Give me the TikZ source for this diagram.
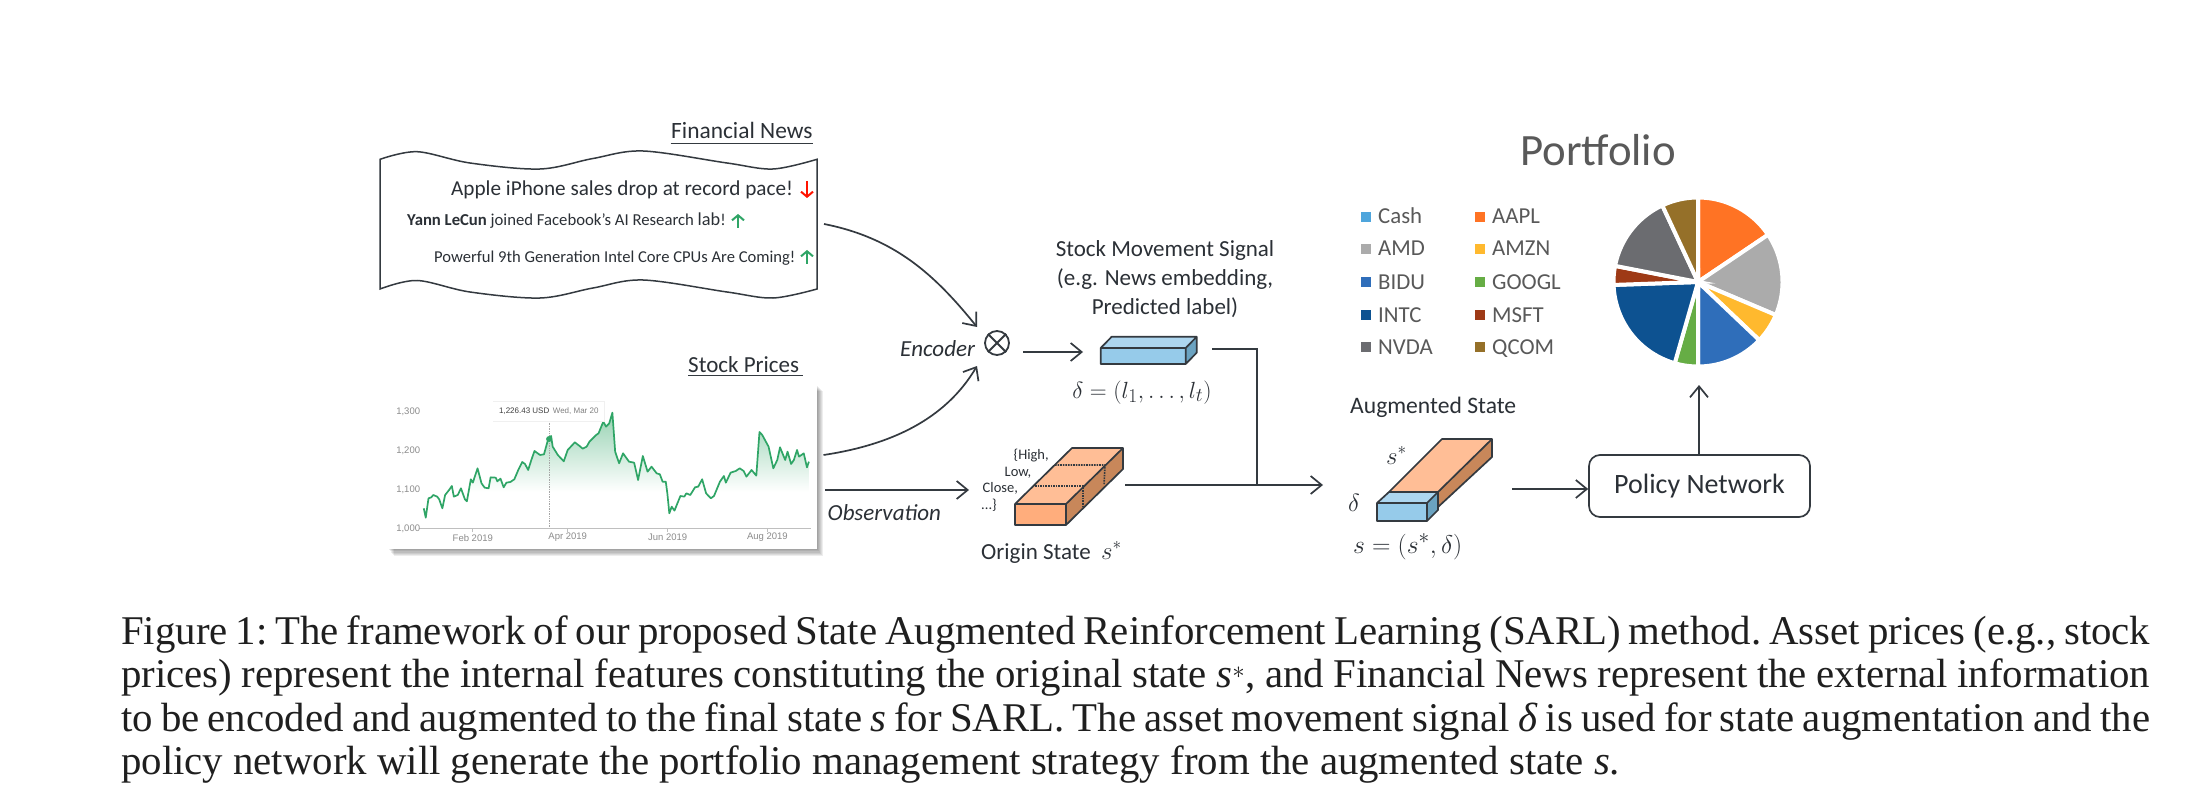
\documentclass[tikz,border=0pt]{standalone}
\usepackage{fontspec}
\setmainfont{Carlito}
\newfontfamily\capfont{Liberation Serif}
\newfontfamily\chartfont{Liberation Sans}
\usetikzlibrary{arrows.meta,calc}
\definecolor{ink}{HTML}{2B3036}
\definecolor{wire}{HTML}{343A40}
\definecolor{legendtxt}{HTML}{595959}
\definecolor{orTop}{HTML}{FFBE96}
\definecolor{orFront}{HTML}{FFAD7C}
\definecolor{orSide}{HTML}{C8875A}
\definecolor{blTop}{HTML}{ADD6EF}
\definecolor{blFront}{HTML}{96CBEA}
\definecolor{blSide}{HTML}{6BA3C1}
\definecolor{chartgreen}{HTML}{2FA566}
\definecolor{cCash}{HTML}{4EA5DC}
\definecolor{cAAPL}{HTML}{FF7324}
\definecolor{cAMD}{HTML}{ABABAB}
\definecolor{cAMZN}{HTML}{FFB92E}
\definecolor{cBIDU}{HTML}{2F6EBA}
\definecolor{cGOOGL}{HTML}{66AD45}
\definecolor{cINTC}{HTML}{0D5291}
\definecolor{cMSFT}{HTML}{9E3A16}
\definecolor{cNVDA}{HTML}{6B6C70}
\definecolor{cQCOM}{HTML}{957029}
\newcommand{\fsz}[1]{\fontsize{#1}{#1}\selectfont}
\tikzset{
  flow/.style={draw=wire,line width=1.7pt,-{Straight Barb[length=11pt,width=18pt,line width=1.7pt]}},
  plain/.style={draw=wire,line width=1.7pt},
  txt/.style={inner sep=0pt,text=ink,anchor=base},
  txtw/.style={inner sep=0pt,text=ink,anchor=base west},
  boxedge/.style={draw=wire,line width=1.7pt,line join=round},
  legendbox/.style={inner sep=0pt,minimum size=10pt},
  legendlabel/.style={inner sep=0pt,text=legendtxt,anchor=base west,font=\fsz{22.8}},
  axislabel/.style={inner sep=0pt,text=black!45,font=\chartfont\fsz{9.5}},
  caption/.style={inner sep=0pt,anchor=base west,text=black!88,font=\capfont\frenchspacing\fsz{40.8}},
  tinyarrow/.style={line width=2pt,-{Straight Barb[length=5pt,width=12pt,line width=2pt]}},
}
\def\chartline{(136,505) -- (141,533) -- (148,475) -- (155,472) -- (160,465) -- (170,470) -- (175,478) -- (183,505) -- (190,465) -- (200,450) -- (207,438) -- (212,470) -- (222,465) -- (230,445) -- (240,478) -- (245,484) -- (255,418) -- (260,428) -- (272,385) -- (282,430) -- (290,443) -- (300,445) -- (305,412) -- (318,413) -- (322,424) -- (330,416) -- (338,442) -- (345,428) -- (355,426) -- (365,418) -- (375,390) -- (385,366) -- (392,372) -- (400,390) -- (408,360) -- (416,333) -- (430,345) -- (440,343) -- (450,300) -- (458,288) -- (462,320) -- (475,345) -- (490,364) -- (500,330) -- (518,307) -- (530,318) -- (538,326) -- (548,320) -- (555,305) -- (572,285) -- (578,280) -- (590,245) -- (597,260) -- (605,250) -- (613,218) -- (620,335) -- (630,370) -- (640,340) -- (655,365) -- (668,368) -- (678,420) -- (690,348) -- (702,395) -- (712,380) -- (725,400) -- (733,403) -- (740,425) -- (748,425) -- (752,460) -- (757,520) -- (763,500) -- (770,512) -- (785,468) -- (795,470) -- (800,460) -- (810,465) -- (822,442) -- (830,440) -- (840,418) -- (850,460) -- (862,475) -- (870,468) -- (885,425) -- (895,408) -- (900,428) -- (912,398) -- (925,393) -- (935,385) -- (945,393) -- (952,410) -- (965,390) -- (977,407) -- (985,276) -- (992,285) -- (1008,320) -- (1020,385) -- (1030,360) -- (1037,322) -- (1050,360) -- (1056,335) -- (1065,372) -- (1072,360) -- (1080,330) -- (1085,350) -- (1097,340) -- (1105,382) -- (1110,365)}
\begin{document}
\begin{tikzpicture}[x=1pt,y=-1pt]
\useasboundingbox (0,0) rectangle (2194,786);
\fill[white] (0,0) rectangle (2194,786);

% ---------- Financial news sheet
\draw[wire,line width=1.5pt,line join=miter]
  plot[smooth,tension=.55] coordinates {(380,159.3) (417,151.7) (470,163) (540,169) (593,158.5) (643,151) (727,163) (773,169) (817,159.3)}
  -- (817,289)
  -- plot[smooth,tension=.55] coordinates {(817,289) (773,298) (727,292) (643,280) (593,288) (540,298) (470,292) (417,280.5) (380,289)}
  -- cycle;
\node[txtw,font=\fsz{23.4}] (newstitle) at (671,139) {Financial News};
\draw[wire,line width=1.4pt] (670.5,143.5) -- (813,143.5);
\node[txtw,font=\fsz{21.2}] (news1) at (451,196) {Apple iPhone sales drop at record pace!};
\node[txtw,font=\fsz{16.7}] (news2) at (407,226) {\textbf{Yann LeCun} joined Facebook’s AI Research {\fsz{18.3}lab}!};
\node[txtw,font=\fsz{16.6}] (news3) at (434,263) {Powerful 9th Generation Intel Core CPUs Are Coming!};
\draw[tinyarrow,red!85!orange] (807,181) -- (807,198);
\draw[tinyarrow,chartgreen] (738,228) -- (738,214);
\draw[tinyarrow,chartgreen] (807,264) -- (807,250);

% ---------- Stock chart card
\foreach \g in {1,...,6}{
  \fill[black,opacity=.07] ({388+\g},{385+\g}) rectangle ({817+\g},{549+1.2*\g});
}
\fill[white] (386,383) rectangle (817,549);
\begin{scope}[shift={(370,340)},x=0.3954pt,y=-0.3333pt]
  \begin{scope}
    \clip (136,565) -- \chartline -- (1110,565) -- cycle;
    \fill[top color=chartgreen!50,bottom color=white] (125,218) rectangle (1115,455);
  \end{scope}
  \draw[black!25,line width=.8pt] (125,565) -- (1115,565);
  \foreach \tx in {260,500,753,1005}{\draw[black!25,line width=.8pt] (\tx,565) -- (\tx,576);}
  \draw[black!35,line width=.7pt,densely dotted] (453,243) -- (453,560);
  \draw[chartgreen,line width=1.7pt,line join=round] \chartline;
  \fill[chartgreen] (453,297) circle (3pt);
  \fill[black!6] (310,183) rectangle (594,246);
  \fill[white] (312,185) rectangle (592,243);
  \node[axislabel,anchor=west] (y1300) at (66,215) {1,300};
  \node[axislabel,anchor=west] (y1200) at (66,332) {1,200};
  \node[axislabel,anchor=west] (y1100) at (66,448) {1,100};
  \node[axislabel,anchor=west] (y1000) at (66,565) {1,000};
  \node[axislabel] (xfeb) at (260,593) {Feb 2019};
  \node[axislabel] (xapr) at (500,593) {Apr 2019};
  \node[axislabel] (xjun) at (753,593) {Jun 2019};
  \node[axislabel] (xaug) at (1005,593) {Aug 2019};
  \node[inner sep=0pt,anchor=west,text=black!75,font=\chartfont\fsz{8}] (tip1) at (326,213) {1,226.43 USD};
  \node[inner sep=0pt,anchor=west,text=black!50,font=\chartfont\fsz{8}] (tip2) at (462,213) {Wed, Mar 20};
\end{scope}
\node[txtw,font=\fsz{23}] (stocktitle) at (688,372) {Stock Prices};
\draw[wire,line width=1.4pt] (688,375.5) -- (802.5,375.5);

% ---------- Encoder
\node[circle,draw=wire,line width=1.8pt,minimum size=24pt,inner sep=0pt] (cross) at (997,343) {};
\draw[wire,line width=1.8pt] (cross.north west) -- (cross.south east) (cross.north east) -- (cross.south west);
\node[txtw,font=\itshape\fsz{23}] (encoder) at (900,356) {Encoder};
\node[txtw,font=\itshape\fsz{23}] (observation) at (827.5,520) {Observation};
\coordinate (newsout) at (824,224);
\coordinate (newsin) at (977,327);
\coordinate (stockout) at (823.5,455);
\coordinate (stockin) at (977,366);
\draw[flow] (newsout) .. controls (895,238) and (935,275) .. (newsin);
\draw[flow] (stockout) .. controls (890,445) and (945,420) .. (stockin);
\coordinate (obsout) at (825,490);
\coordinate (obsin) at (969,490);
\draw[flow] (obsout) -- (obsin);
\coordinate (crossout) at (1023,352);
\coordinate (signalin) at (1083,352);
\draw[flow] (crossout) -- (signalin);

% ---------- Signal block
\node[txt,font=\fsz{23}] (sig1) at (1165,257) {Stock Movement Signal};
\node[txt,font=\fsz{23}] (sig2) at (1165,286) {(e.g. News embedding,};
\node[txt,font=\fsz{23}] (sig3) at (1165,314) {Predicted label)};
\fill[blTop] (1100.7,348) -- (1111.7,336.7) -- (1196.7,336.7) -- (1185.7,348) -- cycle;
\fill[blFront] (1100.7,348) rectangle (1185.7,364);
\fill[blSide] (1185.7,348) -- (1196.7,336.7) -- (1196.7,352.7) -- (1185.7,364) -- cycle;
\draw[boxedge] (1100.7,348) -- (1111.7,336.7) -- (1196.7,336.7) -- (1196.7,352.7) -- (1185.7,364) -- (1100.7,364) -- cycle (1100.7,348) -- (1185.7,348) -- (1196.7,336.7) (1185.7,348) -- (1185.7,364);
\node[txt,font=\fsz{24.88},scale=.94] (deltaeq) at (1142,398) {$\delta=(l_1,\dots,l_t)$};

% ---------- Origin state block
\fill[orTop] (1015,504) -- (1072,448) -- (1123,448) -- (1066,504) -- cycle;
\fill[orFront] (1015,504) rectangle (1066,525);
\fill[orSide] (1066,504) -- (1123,448) -- (1123,469) -- (1066,525) -- cycle;
\draw[wire,line width=1.6pt,densely dotted] (1055,465) -- (1105,465) -- (1104,485);
\draw[wire,line width=1.6pt,densely dotted] (1035,486) -- (1083,486) -- (1083,506);
\draw[boxedge] (1015,504) -- (1072,448) -- (1123,448) -- (1123,469) -- (1066,525) -- (1015,525) -- cycle (1015,504) -- (1066,504) -- (1123,448) (1066,504) -- (1066,525);
\node[txtw,font=\fsz{14.5}] (hi) at (1013.5,459) {\{High,};
\node[txtw,font=\fsz{14.5}] (lo) at (1004.5,476) {Low,};
\node[txtw,font=\fsz{14.5}] (cl) at (982.5,492) {Close,};
\node[txtw,font=\fsz{14.5}] (dt) at (981,509) {...\}};
\node[txtw,font=\fsz{23}] (origin) at (981,559) {Origin State\ \ $s^*$};

% ---------- Merging wires
\coordinate (signalout) at (1212,349);
\coordinate (originout) at (1125,485);
\coordinate (merge) at (1257,485);
\coordinate (augin) at (1323,485);
\draw[plain] (signalout) -| (merge);
\draw[flow] (originout) -- (augin);

% ---------- Augmented state
\node[txtw,font=\fsz{23.6}] (augtitle) at (1350,413) {Augmented State};
\fill[orTop] (1389,492) -- (1442,439) -- (1492,439) -- (1438,492) -- cycle;
\fill[orSide] (1438,492) -- (1492,439) -- (1492,457) -- (1438,507) -- cycle;
\draw[boxedge] (1389,492) -- (1442,439) -- (1492,439) -- (1492,457) -- (1438,507) (1438,492) -- (1492,439);
\fill[blTop] (1377,503) -- (1389,492) -- (1438,492) -- (1427,503) -- cycle;
\fill[blFront] (1377,503) rectangle (1427,521);
\fill[blSide] (1427,503) -- (1438,492) -- (1438,510) -- (1427,521) -- cycle;
\draw[boxedge] (1377,503) -- (1389,492) -- (1438,492) -- (1438,510) -- (1427,521) -- (1377,521) -- cycle (1377,503) -- (1427,503) -- (1438,492) (1427,503) -- (1427,521);
\node[txtw,font=\fsz{24}] (sstar) at (1386,464) {$s^*$};
\node[txtw,font=\fsz{24}] (dl) at (1348,511) {$\delta$};
\node[txtw,font=\fsz{24.88},scale=1.03] (seq) at (1353,553) {$s=(s^*,\delta)$};

% ---------- Policy network
\node[draw=wire,line width=1.7pt,rounded corners=11pt,minimum width=221pt,minimum height=62pt,inner sep=0pt,text=ink,font=\fsz{28}] (policy) at (1699.5,486) {Policy Network};
\coordinate (augout) at (1512,489);
\draw[flow] (augout) -- (augout -| policy.west);
\coordinate (pieIn) at (1699,385);
\draw[flow] (policy.north -| pieIn) -- (pieIn);

% ---------- Portfolio
\node[inner sep=0pt,anchor=base,text=legendtxt,font=\fsz{44.8}] (portfolio) at (1598,166) {Portfolio};
\foreach \nm/\ly/\col in {Cash/217/cCash,AMD/249/cAMD,BIDU/282/cBIDU,INTC/315/cINTC,NVDA/347/cNVDA}{
  \node[legendbox,fill=\col] (sq\nm) at (1366,\ly) {};
  \node[legendlabel] (lb\nm) at (1378,\ly+7) {\nm};
}
\foreach \nm/\ly/\col in {AAPL/217/cAAPL,AMZN/249/cAMZN,GOOGL/282/cGOOGL,MSFT/315/cMSFT,QCOM/347/cQCOM}{
  \node[legendbox,fill=\col] (sq\nm) at (1480,\ly) {};
  \node[legendlabel] (lb\nm) at (1492,\ly+7) {\nm};
}
\foreach \aa/\bb/\col in {0/56/cAAPL,56/113/cAMD,113/133.5/cAMZN,133.5/180/cBIDU,180/196/cGOOGL,196/268/cINTC,268/281/cMSFT,281/335/cNVDA,335/360/cQCOM}{
  \fill[\col,draw=white,line width=4pt,line join=miter]
    (1698,282) -- plot[domain=\aa:\bb,samples=24] ({1698+84.5*sin(\x)},{282-84.5*cos(\x)}) -- cycle;
}

% ---------- Caption
\node[caption] (cap1) at (121,644) {\makebox[2029pt][s]{Figure 1: The framework of our proposed State Augmented Reinforcement Learning (SARL) method. Asset prices (e.g., stock}};
\node[caption] (cap2) at (121,687.5) {\makebox[2029pt][s]{prices) represent the internal features constituting the original state \textit{s}$^*$, and Financial News represent the external information}};
\node[caption] (cap3) at (121,731) {\makebox[2029pt][s]{to be encoded and augmented to the final state \textit{s} for SARL. The asset movement signal \textit{δ} is used for state augmentation and the}};
\node[caption] (cap4) at (121,774.5) {policy network will generate the portfolio management strategy from the augmented state \textit{s}.};
\end{tikzpicture}
\end{document}
